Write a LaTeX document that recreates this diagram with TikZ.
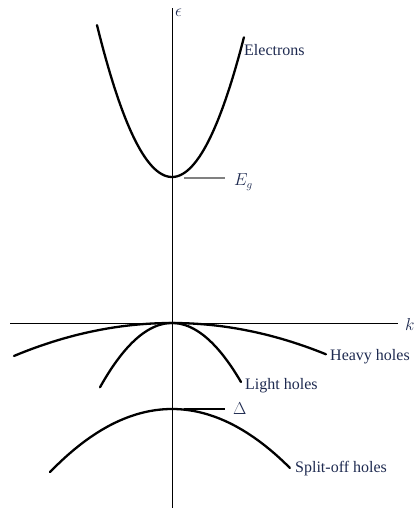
\documentclass[tikz,border=0pt]{standalone}
\usepackage{fontspec}
\setmainfont{Liberation Serif}
\begin{document}
\begin{tikzpicture}[x=1pt,y=-1pt]
\definecolor{txt}{HTML}{1E2A50}
\tikzset{
  band/.style={line width=2.3pt, line cap=round},
  axisline/.style={line width=0.8pt},
  leader/.style={line width=1.1pt},
  lbl/.style={text=txt, font=\fontsize{16}{18}\selectfont, inner sep=0pt, anchor=west}
}
\useasboundingbox (0,0) rectangle (417,508);
% axes
\coordinate (ytop) at (172,8);
\coordinate (ybot) at (172,508);
\coordinate (xl) at (10,323);
\coordinate (xr) at (398,323);
\draw[axisline] (ybot) -- (ytop);
\draw[axisline] (xl) -- (xr);
\node[lbl] (eps) at (175,13) {$\epsilon$};
\node[lbl] (k) at (405,324) {$k$};
% bands (t in units of 100 px)
\draw[band] plot[domain=-0.75:0.72, samples=60, smooth] ({172+100*\x},{177-270*\x*\x});
\draw[band] plot[domain=-1.58:1.54, samples=60, smooth] ({172+100*\x},{323+13.2*\x*\x});
\draw[band] plot[domain=-0.72:0.69, samples=60, smooth] ({172+100*\x},{323+124*\x*\x});
\draw[band] plot[domain=-1.22:1.18, samples=60, smooth] ({172+100*\x},{409+42.4*\x*\x});
% labels
\node[lbl] (el) at (244,50) {Electrons};
\node[lbl] (eg) at (234,182) {$E_g$};
\coordinate (egs) at (184,178);
\draw[leader, gray] (egs) -- ([xshift=-9pt]eg.west |- egs);
\node[lbl] (hh) at (330,357) {Heavy holes};
\node[lbl] (lh) at (245,386) {Light holes};
\node[lbl] (dl) at (233,409) {$\Delta$};
\coordinate (dls) at (184,409);
\draw[leader] (dls) -- ([xshift=-8pt]dl.west);
\node[lbl] (so) at (295,469) {Split-off holes};
\end{tikzpicture}
\end{document}
